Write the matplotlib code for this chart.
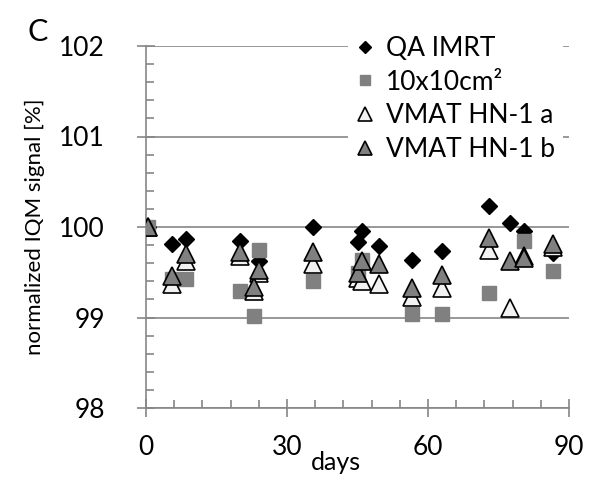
import numpy as np
import matplotlib
matplotlib.use('Agg')
import matplotlib.pyplot as plt
from matplotlib.ticker import MultipleLocator

plt.rcParams['font.family'] = ['Lato', 'DejaVu Sans']

## data
days_qa = [0.5, 5.5, 8.5, 20, 24, 35.5, 45, 46, 49.5, 56.5, 63, 73, 77.5, 80.5, 86.5]
qa_imrt = [100.0, 99.81, 99.87, 99.84, 99.62, 100.0, 99.83, 99.96, 99.79, 99.64, 99.73, 100.23, 100.04, 99.96, 99.71]

days_sq = [0.5, 5.5, 8.5, 20, 23, 24, 35.5, 45, 46, 56.5, 63, 73, 80.5, 86.5]
field_10x10 = [100.0, 99.43, 99.42, 99.29, 99.02, 99.75, 99.40, 99.49, 99.64, 99.04, 99.04, 99.27, 99.84, 99.51]

days_vmat = [0.5, 5.5, 8.5, 20, 23, 24, 35.5, 45, 46, 49.5, 56.5, 63, 73, 77.5, 80.5, 86.5]
vmat_a = [100.0, 99.37, 99.62, 99.68, 99.29, 99.49, 99.59, 99.44, 99.40, 99.37, 99.23, 99.33, 99.75, 99.10, 99.68, 99.78]
vmat_b = [100.0, 99.46, 99.70, 99.72, 99.34, 99.53, 99.72, 99.49, 99.62, 99.59, 99.33, 99.47, 99.88, 99.62, 99.66, 99.81]

labels = ['QA IMRT', '10x10cm\u00b2', 'VMAT HN-1 a', 'VMAT HN-1 b']
x_ticks = [0, 30, 60, 90]
y_ticks = [98, 99, 100, 101, 102]

axis_c = '#868686'

fig = plt.figure(figsize=(5.92, 4.8), dpi=100)
ax = fig.add_axes([146/592, 1 - 408/480, 423/592, 362/480])

ax.plot(days_qa, qa_imrt, ls='none', marker='D', ms=8.5, mfc='black', mec='black',
        label=labels[0], zorder=3)
ax.plot(days_sq, field_10x10, ls='none', marker='s', ms=10, mfc='#808080', mec='#808080',
        label=labels[1], zorder=4)
ax.plot(days_vmat, vmat_a, ls='none', marker='^', ms=12.5, mfc='#f2f2f2', mec='black',
        mew=1.2, label=labels[2], zorder=5)
ax.plot(days_vmat, vmat_b, ls='none', marker='^', ms=12.5, mfc='#808080', mec='black',
        mew=1.2, label=labels[3], zorder=6)

ax.set_xlim(0, 90)
ax.set_ylim(98, 102)
ax.set_xticks(x_ticks)
ax.set_yticks(y_ticks)
ax.xaxis.set_minor_locator(MultipleLocator(6))
ax.yaxis.set_minor_locator(MultipleLocator(0.2))

ax.grid(axis='y', which='major', color=axis_c, lw=1.2, zorder=1)
ax.set_axisbelow(True)

for s in ['top', 'right']:
    ax.spines[s].set_visible(False)
for s in ['left', 'bottom']:
    ax.spines[s].set_color(axis_c)
    ax.spines[s].set_linewidth(1.2)

ax.tick_params(which='major', direction='inout', length=13, width=1.2, color=axis_c,
               labelsize=19)
ax.tick_params(axis='y', which='major', pad=23)
ax.tick_params(axis='x', which='major', pad=13)
ax.tick_params(which='minor', direction='in', length=6, width=1.2, color=axis_c)

ax.set_xlabel('days', fontsize=18)
ax.xaxis.set_label_coords((336 - 146)/423, -0.12)
ax.set_ylabel('normalized IQM signal [%]', fontsize=16)
ax.yaxis.set_label_coords((45 - 146)/423, 0.5)

leg = ax.legend(loc='upper left', bbox_to_anchor=(348/592, 1 - 28/480),
                bbox_transform=fig.transFigure, fontsize=19, frameon=True,
                facecolor='white', edgecolor='none', framealpha=1, fancybox=False,
                markerscale=0.75, handlelength=0.7, handletextpad=0.45,
                labelspacing=0.33, borderpad=0.3, borderaxespad=0)
leg.set_zorder(10)

fig.text(38/592, 1 - 32/480, 'C', fontsize=22, va='center', ha='center')

fig.savefig('out.png', dpi=100)
